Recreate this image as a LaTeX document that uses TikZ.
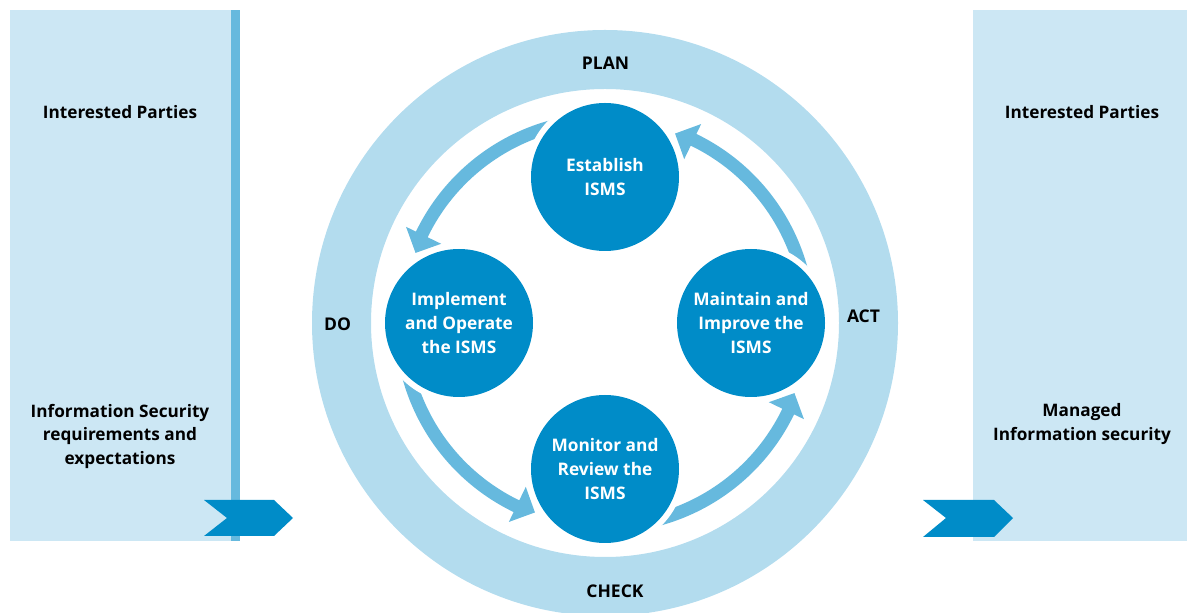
\documentclass[tikz,border=0pt]{standalone}
\usepackage{fontspec}
\setmainfont{Open Sans}
\definecolor{panelc}{RGB}{204,231,244}
\definecolor{ringc}{RGB}{179,220,238}
\definecolor{circc}{RGB}{0,140,200}
\definecolor{arrowc}{RGB}{102,185,222}
\newcommand\cyclearrow[2]{%
  \fill[arrowc] ([shift={(#1:210pt)}]c) arc[start angle=#1, end angle=#2, radius=210pt]
    -- ([shift={(#2:221pt)}]c) -- ([shift={({#2+5.5}:202pt)}]c)
    -- ([shift={(#2:182pt)}]c) -- ([shift={(#2:197pt)}]c)
    arc[start angle=#2, end angle=#1, radius=197pt] -- cycle;}
\tikzset{
  panel/.style={fill=panelc},
  sidebar/.style={fill=arrowc},
  chev/.style={fill=circc},
  stage/.style={circle, fill=circc, minimum size=148pt, inner sep=0pt, text=white,
    font=\bfseries\fontsize{17.3}{24}\selectfont, align=center},
  halo/.style={circle, fill=white, minimum size=160pt, inner sep=0pt},
  phase/.style={font=\bfseries\fontsize{17.5}{24}\selectfont, inner sep=0pt},
  side/.style={font=\bfseries\fontsize{17.2}{23.5}\selectfont, align=center, inner sep=0pt}
}
\begin{document}
\begin{tikzpicture}[x=1pt,y=1pt]
\useasboundingbox (0,0) rectangle (1187,613);
% side panels
\fill[panel] (10,72) rectangle (231,603);
\fill[sidebar] (231,72) rectangle (240,603);
\fill[panel] (973,72) rectangle (1187,603);
\fill[chev] (204,113) -- (274,113) -- (293,95) -- (274,77) -- (204,77) -- (227,95) -- cycle;
\fill[chev] (923,113) -- (994,113) -- (1013,95) -- (994,76) -- (923,76) -- (946,95) -- cycle;
% ring
\coordinate (c) at (605,290);
\fill[ringc, even odd rule] (c) circle[radius=293pt] (c) circle[radius=234pt];
% cycle arrows
\cyclearrow{100}{154.2}
\cyclearrow{190}{244.2}
\cyclearrow{280}{334.2}
\cyclearrow{10}{64.2}
% stages
\foreach \p in {(605,436),(459,290),(751,290),(605,144)} \node[halo] at \p {};
\node[stage] (est) at (605,436) {Establish\\ISMS};
\node[stage] (imp) at (459,290) {Implement\\and Operate\\the ISMS};
\node[stage] (mai) at (751,290) {Maintain and\\Improve the\\ISMS};
\node[stage] (mon) at (605,144) {Monitor and\\Review the\\ISMS};
% phase labels
\node[phase] (plan) at (605.5,549.5) {PLAN};
\node[phase] (do) at (337.5,288.5) {DO};
\node[phase] (act) at (863.5,297) {ACT};
\node[phase] (check) at (615,21.5) {CHECK};
% side texts
\node[side] (ipl) at (120,501) {Interested Parties};
\node[side] (req) at (120,177) {Information Security\\requirements and\\expectations};
\node[side] (ipr) at (1082,501) {Interested Parties};
\node[side] (man) at (1082,189) {Managed\\Information security};
\end{tikzpicture}
\end{document}
